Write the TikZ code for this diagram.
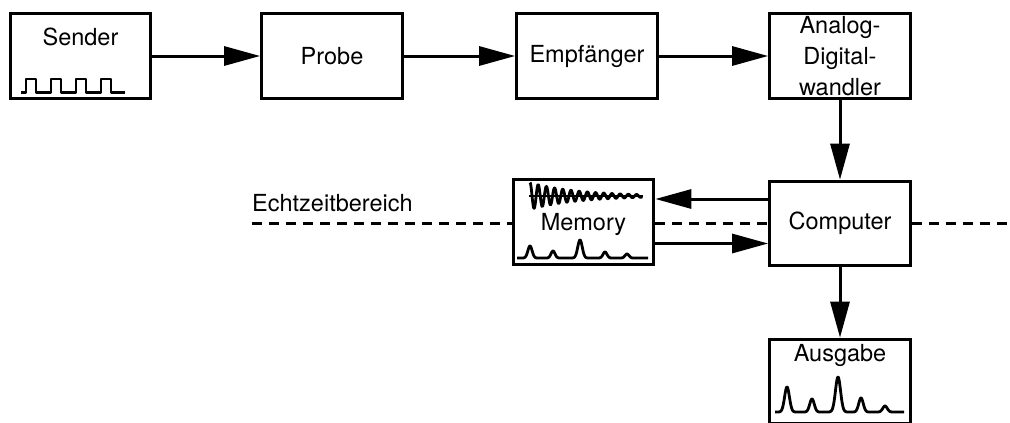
\documentclass[tikz,border=0pt]{standalone}
\usepackage{fontspec}
\setmainfont{TeX Gyre Heros}
\usetikzlibrary{arrows.meta}
\begin{document}
\begin{tikzpicture}[x=1pt,y=-1pt,
  declare function={g(\x,\c,\s)=exp(-min(((\x-\c)/\s)^2,30));},
  box/.style={draw,line width=3.2pt,minimum width=140.5pt,minimum height=84.5pt,inner sep=0pt,
    font=\fontsize{23.5}{31}\selectfont,align=center},
  lbl/.style={font=\fontsize{23.5}{31}\selectfont,inner sep=0pt},
  arr/.style={line width=3pt,-{Triangle[length=36pt,width=19pt]}},
  dashline/.style={line width=3pt,dash pattern=on 10pt off 7pt},
  wave/.style={line width=2.8pt,line join=round}]
\clip (0,0) rectangle (1010,423);
% boxes
\node[box] (sender) at (80.5,56) {};
\node[lbl] (sendertxt) at (80.5,37) {Sender};
\node[box] (probe) at (332,56) {Probe};
\node[box] (empf) at (587,56) {Empfänger};
\node[box] (adw) at (840,56) {Analog-\\Digital-\\wandler};
\node[box] (computer) at (840,223.5) {Computer};
\node[box] (memory) at (583.5,222) {};
\node[lbl] (memtxt) at (583.5,224) {Memory};
\node[box] (ausgabe) at (840,381.5) {};
\node[lbl] (ausgtxt) at (840,355) {Ausgabe};
% arrows
\draw[arr] (sender) -- (probe);
\draw[arr] (probe) -- (empf);
\draw[arr] (empf) -- (adw);
\draw[arr] (adw) -- (computer);
\draw[arr] (computer) -- (ausgabe);
\coordinate (c1) at ([yshift=24.5pt]computer.west);
\draw[arr] (c1) -- (c1 -| memory.east);
\coordinate (m2) at ([yshift=-21.5pt]memory.east);
\draw[arr] (m2) -- (m2 -| computer.west);
% dashed line
\coordinate (dl) at (252,223);
\coordinate (dr) at (1010,223);
\draw[dashline] (dl) -- (dl -| memory.west);
\draw[dashline] (dl -| memory.east) -- (dl -| computer.west);
\draw[dashline] (dl -| computer.east) -- (dr);
\node[lbl,anchor=base west] (echt) at (252,211) {Echtzeitbereich};
% sender square wave
\draw[wave] (21,92.5) -- (26,92.5) -- (26,79) -- (36,79) -- (36,92.5)
  -- (51,92.5) -- (51,79) -- (61,79) -- (61,92.5)
  -- (76,92.5) -- (76,79) -- (86,79) -- (86,92.5)
  -- (101,92.5) -- (101,79) -- (111,79) -- (111,92.5) -- (125,92.5);
% FID
\draw[line width=1.8pt] (529,196) -- (643,196);
\draw[line width=2.8pt,line join=round] plot[samples=400,domain=530:642]
  (\x,{196-13.5*exp(-(\x-530)/48)*cos(43.9*(\x-530))});
% memory spectrum
\draw[wave] plot[samples=400,domain=517:648]
  (\x,{258-12*g(\x,530,3)-7*g(\x,553,2.8)-18*g(\x,580,3.2)-6*g(\x,605,2.8)-4*g(\x,627,2.8)});
% output spectrum
\draw[wave] plot[samples=400,domain=775:904]
  (\x,{412-25*g(\x,787,3.4)-13*g(\x,812,3.2)-35*g(\x,838,3.6)-14*g(\x,861,3.2)-6*g(\x,885,3.2)});
\end{tikzpicture}
\end{document}
